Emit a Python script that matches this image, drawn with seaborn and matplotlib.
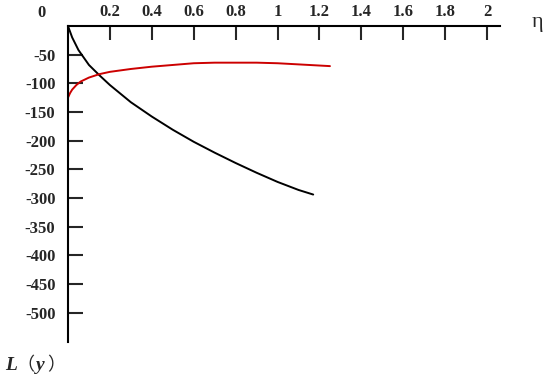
import matplotlib
matplotlib.use("Agg")
import matplotlib.pyplot as plt
import seaborn as sns
import pandas as pd

sns.set_theme(style="white")
plt.rcParams['font.family'] = ['Liberation Serif', 'Noto Sans CJK SC', 'DejaVu Sans']

# Data
eta_black = [0.0, 0.02, 0.05, 0.1, 0.15, 0.2, 0.3, 0.4, 0.5, 0.6, 0.7, 0.8, 0.9, 1.0, 1.1, 1.17]
L_black = [0, -20, -42, -68, -86, -103, -133, -158, -181, -202, -221, -239, -256, -272, -286, -294]

eta_red = [0.0, 0.01, 0.02, 0.04, 0.06, 0.1, 0.15, 0.2, 0.3, 0.4, 0.5, 0.6, 0.7, 0.8, 0.9, 1.0, 1.1, 1.25]
L_red = [-125, -117, -111, -103, -97, -90, -84, -80, -75, -71, -68, -65, -64, -64, -64, -65, -67, -70]

x_ticks = [0.2, 0.4, 0.6, 0.8, 1, 1.2, 1.4, 1.6, 1.8, 2]
x_labels = ["0.2", "0.4", "0.6", "0.8", "1", "1.2", "1.4", "1.6", "1.8", "2"]
y_ticks = [-50, -100, -150, -200, -250, -300, -350, -400, -450, -500]

df_b = pd.DataFrame({"eta": eta_black, "L": L_black})
df_r = pd.DataFrame({"eta": eta_red, "L": L_red})

fig = plt.figure(figsize=(5.5, 3.82), dpi=100)
ax = fig.add_axes([0.1236, 0.105, 0.785, 0.827])

sns.lineplot(data=df_b, x="eta", y="L", color="black", lw=1.4, ax=ax, estimator=None, sort=False)
sns.lineplot(data=df_r, x="eta", y="L", color="#cc0000", lw=1.4, ax=ax, estimator=None, sort=False)

ax.set_xlim(0, 2.06)
ax.set_ylim(-551, 0)
ax.xaxis.tick_top()
ax.set_xticks(x_ticks)
ax.set_xticklabels(x_labels)
ax.set_yticks(y_ticks)
ax.set_yticklabels([str(v) for v in y_ticks])
ax.set_xlabel("")
ax.set_ylabel("")
for s in ["right", "bottom"]:
    ax.spines[s].set_visible(False)
for s in ["top", "left"]:
    ax.spines[s].set_visible(True)
    ax.spines[s].set_color("black")
    ax.spines[s].set_linewidth(1.5)
ax.tick_params(axis="x", direction="in", length=10, width=1.5, top=True, bottom=False,
               labeltop=True, labelbottom=False, pad=4, labelsize=12)
ax.tick_params(axis="y", direction="in", length=11, width=1.5, left=True, pad=9, labelsize=12)
for lab in ax.get_xticklabels() + ax.get_yticklabels():
    lab.set_fontweight("bold")

fig.text(42 / 550, 1 - 13 / 382, "0", ha="center", va="center", fontsize=12, fontweight="bold")
fig.text(538 / 550, 1 - 22 / 382, "η", ha="center", va="center", fontsize=16)
fig.text(5 / 550, 1 - 365 / 382, "L", ha="left", va="center", fontsize=14, fontstyle="italic", fontweight="bold")
fig.text(16 / 550, 1 - 365 / 382, "（", ha="left", va="center", fontsize=13, family=['Noto Sans CJK SC'])
fig.text(36 / 550, 1 - 365 / 382, "y", ha="left", va="center", fontsize=14, fontstyle="italic", fontweight="bold")
fig.text(47 / 550, 1 - 365 / 382, "）", ha="left", va="center", fontsize=13, family=['Noto Sans CJK SC'])

ax.legend_ = None
fig.savefig("out.png", dpi=100)
